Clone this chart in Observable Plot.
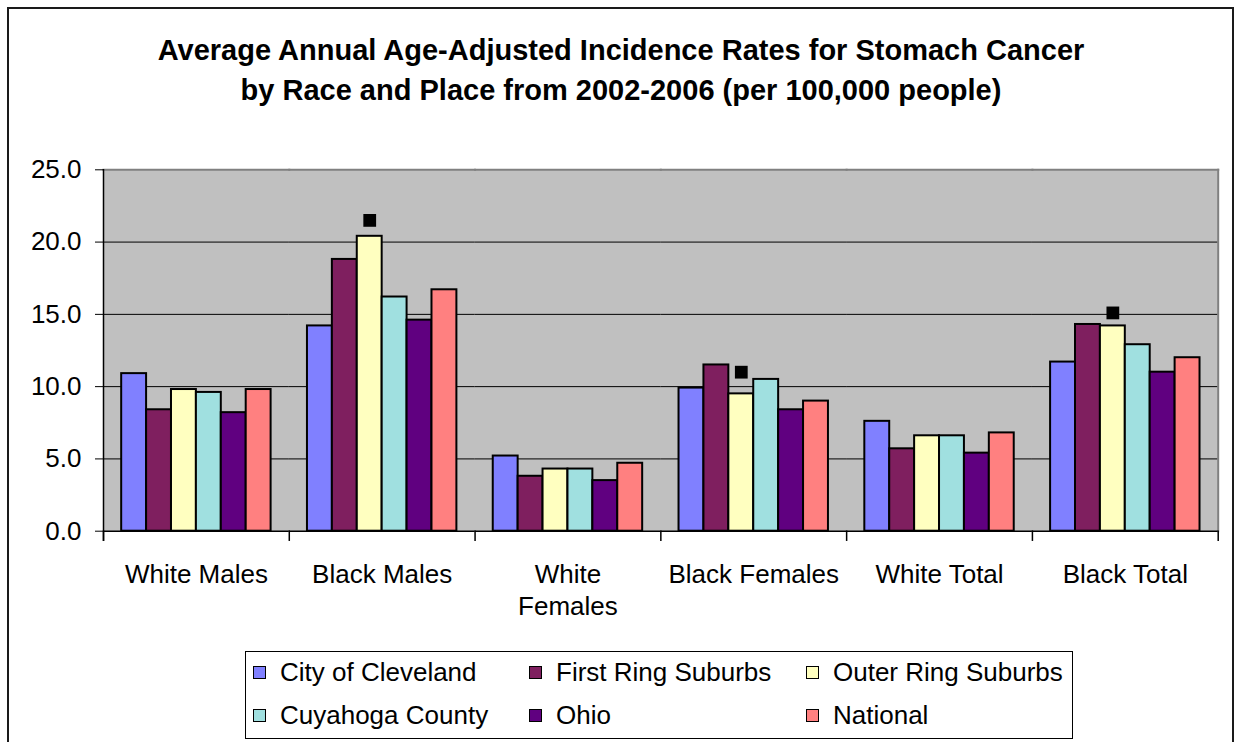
<!DOCTYPE html>
<html><head><meta charset="utf-8">
<script src="https://cdn.jsdelivr.net/npm/d3@7"></script>
<script src="https://cdn.jsdelivr.net/npm/@observablehq/plot@0.6"></script>
<style>
html,body{margin:0;padding:0;background:#fff;}
body{width:1236px;height:742px;position:relative;overflow:hidden;font-family:"Liberation Sans",Arial,sans-serif;color:#000;}
#border{position:absolute;left:7px;top:7px;width:1227px;height:800px;border:2px solid #1a1a1a;box-sizing:border-box;}
#title{position:absolute;left:0;top:30px;width:1242px;text-align:center;font-weight:bold;font-size:29px;line-height:40px;}
#chart{position:absolute;left:0;top:140px;}
#legend{position:absolute;left:245px;top:651px;width:828px;height:88px;border:1px solid #000;box-sizing:border-box;background:#fff;}
.item{position:absolute;height:30px;display:flex;align-items:center;font-size:26px;white-space:nowrap;}
.sw{width:13px;height:13px;border:1.5px solid #000;box-sizing:border-box;margin-right:14px;flex:none;}
</style></head>
<body>
<div id="border"></div>
<div id="title">Average Annual Age-Adjusted Incidence Rates for Stomach Cancer<br>by Race and Place from 2002-2006 (per 100,000 people)</div>
<div id="chart"></div>
<div id="legend"></div>
<script>
const categories = ["White Males","Black Males","White Females","Black Females","White Total","Black Total"];
const categoryLabels = ["White Males","Black Males","White\nFemales","Black Females","White Total","Black Total"];
const series = ["City of Cleveland","First Ring Suburbs","Outer Ring Suburbs","Cuyahoga County","Ohio","National"];
const seriesColors = ["#8080FF","#7F1F5F","#FFFFC0","#A0E0E0","#600080","#FF8080"];
const cleveland = [10.9,14.2,5.2,9.9,7.6,11.7];
const firstRing = [8.4,18.8,3.8,11.5,5.7,14.3];
const outerRing = [9.8,20.4,4.3,9.5,6.6,14.2];
const cuyahoga  = [9.6,16.2,4.3,10.5,6.6,12.9];
const ohio      = [8.2,14.6,3.5,8.4,5.4,11.0];
const national  = [9.8,16.7,4.7,9.0,6.8,12.0];
const markerCategories = ["Black Males","Black Females","Black Total"];
const markerSeries = "Outer Ring Suburbs";
const markerValues = [21.5,11.0,15.1];
const yTicks = [0,5,10,15,20,25];
const legendRows = [["City of Cleveland","First Ring Suburbs","Outer Ring Suburbs"],["Cuyahoga County","Ohio","National"]];

const seriesValues = [cleveland, firstRing, outerRing, cuyahoga, ohio, national];
const data = categories.flatMap((c, i) => series.map((s, j) => ({category: c, series: s, value: seriesValues[j][i]})));
const markers = markerCategories.map((c, i) => ({category: c, series: markerSeries, value: markerValues[i]}));

const W = 1236, H = 500, mT = 29.3, mB = 109.3, mL = 103, mR = 18.3;
const plotH = H - mT - mB;

const chart = Plot.plot({
  width: W, height: H, marginTop: mT, marginBottom: mB, marginLeft: mL, marginRight: mR,
  style: {fontFamily: '"Liberation Sans", Arial, sans-serif', fontSize: "26px", color: "#000", background: "transparent", overflow: "visible"},
  fx: {domain: categories, padding: 0, round: false, label: null},
  x: {domain: series, paddingInner: 0, paddingOuter: 0.73, round: false, axis: null},
  y: {domain: [0, 25], label: null},
  color: {domain: series, range: seriesColors},
  marks: [
    Plot.frame({fill: "#C0C0C0", stroke: "none", insetLeft: -0.5, insetRight: -0.5}),
    Plot.ruleY(yTicks.filter(t => t > 0 && t < 25), {stroke: "#000", strokeWidth: 1}),
    Plot.frame({anchor: "top", stroke: "#808080", strokeWidth: 2}),
    Plot.frame({anchor: "right", facetAnchor: "right", stroke: "#808080", strokeWidth: 2}),
    Plot.barY(data, {fx: "category", x: "series", y: "value", fill: "series", stroke: "#000", strokeWidth: 2}),
    Plot.dot(markers, {fx: "category", x: "series", y: "value", symbol: "square", r: 7.2, fill: "#000", stroke: "none"}),
    Plot.ruleY([0], {stroke: "#000", strokeWidth: 1.5}),
    Plot.frame({anchor: "left", facetAnchor: "left", stroke: "#000", strokeWidth: 1.5, insetBottom: -9}),
    Plot.frame({anchor: "left", stroke: "#000", strokeWidth: 1.5, insetTop: plotH, insetBottom: -9}),
    Plot.frame({anchor: "right", facetAnchor: "right", stroke: "#000", strokeWidth: 1.5, insetTop: plotH, insetBottom: -9}),
    Plot.axisY({ticks: yTicks, tickFormat: d3.format(".1f"), tickSize: 8, tickPadding: 14, label: null, stroke: "#000"}),
    Plot.axisFx({anchor: "bottom", tickSize: 0, tickPadding: 29, label: null, lineHeight: 1.23,
      tickFormat: d => categoryLabels[categories.indexOf(d)]})
  ]
});
document.getElementById("chart").appendChild(chart);

const color = chart.scale("color");
const colLefts = [7, 283, 560];
const rowTops = [5.7, 48];
const legend = document.getElementById("legend");
legendRows.forEach((row, r) => row.forEach((name, c) => {
  const item = document.createElement("div");
  item.className = "item";
  item.style.left = colLefts[c] + "px";
  item.style.top = rowTops[r] + "px";
  const sw = document.createElement("span");
  sw.className = "sw";
  sw.style.background = color.apply(name);
  const t = document.createElement("span");
  t.textContent = name;
  item.appendChild(sw); item.appendChild(t);
  legend.appendChild(item);
}));
</script>
</body></html>
